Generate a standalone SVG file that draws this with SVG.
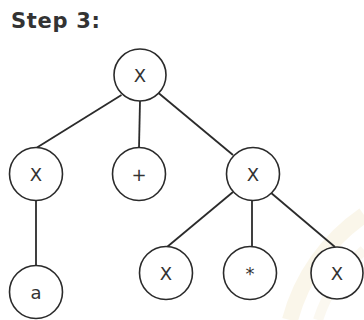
<svg xmlns="http://www.w3.org/2000/svg" width="364" height="320" viewBox="0 0 364 320">
<style>
.n{fill:#fff;stroke:#2b2b2b;stroke-width:1.6}
.t{font-family:"DejaVu Sans",Verdana,sans-serif;font-size:18px;fill:#333;text-anchor:middle}
.e{stroke:#2b2b2b;stroke-width:1.8;fill:none}
</style>
<rect width="364" height="320" fill="#fff"/>
<g id="watermark" opacity="0.35">
<path d="M290 320 A185 185 0 0 1 364 215" stroke="#f3e6c4" stroke-width="16" fill="none"/>
<path d="M318 320 A160 160 0 0 1 364 250" stroke="#f5ecd6" stroke-width="10" fill="none"/>
</g>
<text x="11" y="27.5" font-family="'DejaVu Sans',Verdana,sans-serif" font-weight="bold" font-size="21" fill="#333" textLength="89" lengthAdjust="spacing">Step 3:</text>
<g id="edges">
<line class="e" x1="121.5" y1="95" x2="37" y2="147.5"/>
<line class="e" x1="140" y1="101" x2="139" y2="148"/>
<line class="e" x1="158.5" y1="93" x2="233" y2="155"/>
<line class="e" x1="36" y1="200" x2="36" y2="266"/>
<line class="e" x1="233" y1="192" x2="167" y2="247"/>
<line class="e" x1="252" y1="200" x2="252" y2="247"/>
<line class="e" x1="270" y1="192" x2="335" y2="247"/>
</g>
<g id="root"><circle class="n" cx="140" cy="75" r="26"/><text class="t" x="140" y="81.5">X</text></g>
<g id="x1"><circle class="n" cx="36" cy="174" r="26.5"/><text class="t" x="36" y="180.5">X</text></g>
<g id="plus"><circle class="n" cx="139" cy="174" r="26.5"/><text class="t" x="139" y="180.5">+</text></g>
<g id="x2"><circle class="n" cx="253" cy="174" r="26.5"/><text class="t" x="253" y="180.5">X</text></g>
<g id="a"><circle class="n" cx="36" cy="292" r="26.5"/><text class="t" x="36" y="298.5">a</text></g>
<g id="x3"><circle class="n" cx="166" cy="273" r="26.5"/><text class="t" x="166" y="279.5">X</text></g>
<g id="star"><circle class="n" cx="250" cy="273" r="26.5"/><text class="t" x="250" y="279.5">*</text></g>
<g id="x4"><circle class="n" cx="337" cy="273" r="26"/><text class="t" x="337" y="279.5">X</text></g>
</svg>
